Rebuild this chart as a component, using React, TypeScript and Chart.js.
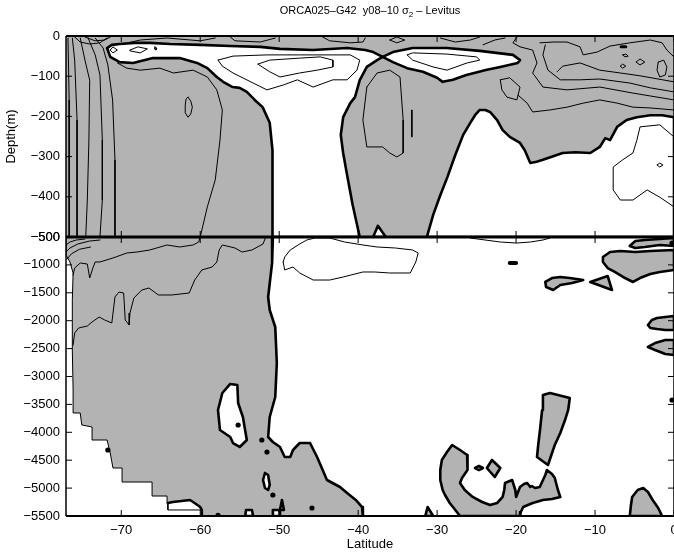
import React, { useEffect, useRef } from 'react';
import { Chart, registerables } from 'chart.js';
Chart.register(...registerables);

type P = [number, number];

// ---------- axes ----------
const LAT_MIN = -77;
const LAT_MAX = 0;
const LAT_STEP = 10;
const TOP_MIN = -500;
const TOP_MAX = 0;
const TOP_STEP = 100;
const BOT_MIN = -5500;
const BOT_MAX = -500;
const BOT_STEP = 500;
const TITLE_MAIN = 'ORCA025\u2013G42  y08\u201310 \u03c3';
const TITLE_SUB = '2';
const TITLE_END = ' \u2013 Levitus';
const X_LABEL = 'Latitude';
const Y_LABEL = 'Depth(m)';

// ---------- upper panel (0 to -500 m): white regions bounded by the thick contour ----------
const topWhiteWest: P[] = [
  [-71.8, -30], [-71.2, -22], [-70.2, -20], [-68.3, -17], [-66.4, -17], [-63.8, -20], [-60.0, -22],
  [-56.2, -25], [-52.4, -27], [-49.9, -32], [-45.7, -35], [-41.4, -30], [-39.1, -35], [-38.1, -40],
  [-36.9, -52], [-37.6, -60], [-38.9, -77], [-39.8, -110], [-40.4, -152], [-41.0, -167], [-41.9, -202],
  [-42.2, -246], [-41.9, -291], [-41.4, -346], [-40.7, -420], [-39.8, -500], [-50.8, -500], [-50.8, -408],
  [-50.9, -284], [-51.2, -216], [-52.1, -177], [-53.1, -159], [-54.1, -139], [-55.0, -129], [-55.9, -127],
  [-57.1, -114], [-57.9, -102], [-59.1, -80], [-60.4, -67], [-62.6, -55], [-66.0, -55], [-68.5, -67],
  [-70.2, -65], [-71.4, -52],
];
const topWhiteEast: P[] = [
  [-36.9, -52], [-35.6, -40], [-33.1, -30], [-28.8, -30], [-24.6, -37], [-20.4, -47], [-19.5, -60],
  [-19.8, -67], [-22.0, -77], [-23.7, -84], [-26.3, -97], [-28.0, -109], [-29.3, -114], [-30.0, -104],
  [-31.8, -89], [-33.8, -80], [-35.6, -65],
];
const topWhiteSouthEast: P[] = [
  [-31.3, -500], [-30.5, -445], [-29.6, -396], [-28.7, -351], [-27.7, -296], [-26.7, -246], [-25.8, -216],
  [-25.2, -197], [-24.6, -184], [-23.9, -184], [-23.3, -189], [-22.4, -209], [-21.7, -234], [-20.8, -251],
  [-19.5, -266], [-18.9, -284], [-18.2, -316], [-17.4, -313], [-16.6, -308], [-15.3, -299], [-14.1, -291],
  [-12.5, -289], [-10.6, -291], [-9.4, -276], [-8.7, -254], [-8.1, -259], [-7.2, -226], [-6.0, -209],
  [-4.7, -202], [-3.0, -197], [-1.5, -197], [0, -202], [0, -500],
];
const topWhiteNotch: P[] = [[-38.1, -500], [-37.5, -472], [-36.5, -500]];

// ---------- upper panel: thin contours ----------
const topThinLines: P[][] = [
  [[-70.5, -67], [-69.3, -80], [-67.6, -85], [-65.1, -80], [-63.4, -92], [-60.9, -85], [-59.1, -102],
   [-57.9, -134], [-57.2, -184], [-57.5, -259], [-58.1, -358], [-59.1, -425], [-60.0, -500]],
  [[-76.75, -5], [-76.6, -159], [-76.6, -500]],
  [[-76.2, -5], [-75.9, -60], [-75.6, -209], [-75.6, -500]],
  [[-75.2, -5], [-74.6, -60], [-74.0, -110], [-74.1, -259], [-74.3, -408], [-74.5, -500]],
  [[-74.2, -5], [-73.3, -47], [-72.7, -97], [-72.4, -259], [-72.4, -408], [-72.7, -500]],
  [[-73.3, -5], [-72.3, -30], [-71.7, -72], [-71.1, -159], [-70.8, -308], [-70.8, -500]],
  [[-75.9, -2.5], [-75.2, -15], [-74.0, -20], [-72.7, -17], [-71.8, -5]],
  [[-74.6, -2.5], [-73.3, -12], [-72.1, -10], [-71.4, -2.5]],
  [[-69.15, -17], [-67.6, -10], [-64.2, -5], [-60.0, -12], [-58.1, -5]],
  [[-56.2, -2.5], [-55.6, -12], [-52.4, -15], [-50.5, -5]],
  [[-44.5, -2.5], [-43.6, -12], [-41.0, -17], [-39.4, -15], [-39.1, -5]],
  [[-29.6, -5], [-27.7, -15], [-25.8, -10], [-24.6, -2.5]],
  [[-24.2, -22], [-22.7, -10], [-21.4, -5]],
  [[-33.2, -184], [-33.2, -251]],
  [[-17.0, -17], [-15.3, -15], [-13.55, -15], [-11.9, -27], [-11.5, -47], [-9.75, -40], [-8.1, -25],
   [-5.6, -17], [-3.0, -10], [-1.5, -17], [-0.9, -35], [0, -52]],
  [[-14.8, -89], [-14.1, -75], [-11.9, -67], [-9.4, -85], [-6.8, -92], [-4.3, -99], [0, -114]],
  [[-16.3, -22], [-16.6, -47], [-15.96, -85], [-14.4, -109], [-11.9, -109], [-9.4, -107], [-5.6, -117],
   [-3.0, -129], [0, -139]],
  [[-19.9, -2.5], [-20.4, -17], [-19.5, -27], [-17.9, -35], [-17.35, -67], [-17.9, -92], [-16.6, -127],
   [-13.55, -134], [-9.4, -127], [-5.2, -142], [0, -159]],
  [[-19.76, -147], [-18.6, -167], [-17.9, -189], [-15.7, -184], [-13.55, -177], [-11.5, -167], [-9.4, -159],
   [-7.2, -167], [-5.2, -177], [-3.0, -179], [0, -184]],
  [[0, -425], [-1.8, -401], [-3.4, -383], [-5.2, -408], [-6.8, -408], [-7.7, -383], [-7.7, -326],
   [-6.5, -308], [-5.2, -291], [-4.7, -259], [-4.3, -226], [-1.8, -221], [0, -251]],
];
const topThinLoops: P[][] = [
  [[-61.55, -152], [-61.2, -162], [-61.0, -177], [-61.2, -194], [-61.55, -202], [-61.9, -191], [-61.9, -172], [-61.8, -157]],
  [[-57.75, -60], [-55.85, -50], [-51.55, -47], [-47.4, -47], [-43.2, -47], [-41.0, -47], [-39.8, -60],
   [-40.15, -85], [-41.4, -109], [-43.2, -109], [-45.7, -127], [-47.7, -109], [-49.5, -122], [-51.55, -134],
   [-53.3, -117], [-55.85, -92], [-57.2, -75]],
  [[-52.7, -70], [-51.2, -60], [-47.4, -55], [-44.8, -52], [-43.2, -60], [-43.2, -77], [-45.2, -85],
   [-47.4, -92], [-49.9, -102], [-51.2, -89]],
  [[-33.8, -47], [-33.1, -42], [-28.75, -45], [-25.0, -52], [-24.6, -60], [-26.2, -67], [-28.75, -85],
   [-30.5, -77], [-33.1, -60]],
  [[-71.4, -35], [-71.05, -27], [-70.5, -35], [-71.05, -42]],
  [[-68.9, -35], [-67.9, -27], [-66.7, -32], [-67.6, -42], [-68.9, -37]],
  [[-65.75, -27], [-65.5, -30], [-65.6, -35], [-65.85, -31]],
  [[-38.9, -127], [-37.6, -92], [-36.0, -85], [-34.7, -102], [-34.3, -209], [-34.3, -291], [-35.1, -301],
   [-36.0, -291], [-36.9, -276], [-38.9, -276], [-39.4, -209]],
  [[-36.0, -10], [-35.1, -2.5], [-34.1, -10], [-35.1, -17]],
  [[-22.0, -109], [-20.8, -104], [-19.5, -127], [-19.9, -159], [-21.15, -152], [-21.8, -134]],
  [[-4.8, -65], [-4.3, -57], [-3.7, -65], [-4.3, -72]],
  [[-2.0, -65], [-1.3, -60], [-0.9, -77], [-1.1, -97], [-1.8, -102], [-2.15, -85]],
  [[-6.5, -47], [-6.1, -45], [-5.8, -50], [-6.2, -52]],
  [[-6.8, -75], [-6.5, -70], [-6.1, -75], [-6.5, -80]],
  [[-2.15, -321], [-1.8, -316], [-1.4, -321], [-1.8, -326]],
];
const topDash: P[] = [[-6.7, -27], [-6.1, -27]];

// ---------- lower panel (-500 to -5500 m): grey regions ----------
const botGreyWest: P[] = [
  [-77, -500], [-50.8, -500], [-50.9, -966], [-51.4, -1575], [-51.2, -1808], [-50.5, -2113], [-50.3, -2758],
  [-50.5, -3367], [-51.2, -3726], [-51.4, -4084], [-50.8, -4174], [-49.9, -4263], [-49.3, -4443], [-48.6, -4443],
  [-48.25, -4317], [-47.4, -4192], [-46.1, -4192], [-45.2, -4443], [-43.95, -4855], [-42.3, -4980],
  [-41.4, -5088], [-40.3, -5213], [-39.5, -5339], [-39.4, -5500], [-59.8, -5500], [-59.8, -5392],
  [-60.0, -5339], [-60.9, -5249], [-61.3, -5213], [-63.45, -5249], [-64.1, -5267], [-64.2, -5142],
  [-66.1, -5142], [-66.1, -4891], [-69.9, -4891], [-69.9, -4640], [-71.05, -4640], [-71.4, -4371],
  [-71.8, -4138], [-73.7, -4138], [-73.7, -3905], [-75.0, -3869], [-75.2, -3654], [-76.0, -3654],
  [-76.1, -3242], [-76.2, -2525], [-76.2, -1629], [-76.1, -1145], [-76.5, -948], [-77, -823],
];
const botWestEdge: P[] = [
  [-50.8, -500], [-50.9, -966], [-51.4, -1575], [-51.2, -1808], [-50.5, -2113], [-50.3, -2758], [-50.5, -3367],
  [-51.2, -3726], [-51.4, -4084], [-50.8, -4174], [-49.9, -4263], [-49.3, -4443], [-48.6, -4443], [-48.25, -4317],
  [-47.4, -4192], [-46.1, -4192], [-45.2, -4443], [-43.95, -4855], [-42.3, -4980], [-41.4, -5088], [-40.3, -5213],
  [-39.5, -5339], [-39.4, -5500],
];
const botPocketEdge: P[] = [
  [-59.8, -5500], [-59.8, -5392], [-60.0, -5339], [-60.9, -5249], [-61.3, -5213], [-63.45, -5249], [-64.1, -5267],
];
const botPocketFloor: P[] = [[-64.1, -5267], [-64.1, -5392], [-59.8, -5392]];
const botWhiteIslands: P[][] = [
  [[-56.2, -3134], [-55.3, -3152], [-55.2, -3475], [-54.6, -3726], [-54.1, -4138], [-55.0, -4263], [-55.85, -4192],
   [-56.2, -4084], [-57.5, -3959], [-57.75, -3600], [-57.2, -3296]],
  [[-51.8, -4729], [-51.4, -4765], [-51.2, -4944], [-51.4, -5034], [-51.8, -4998], [-52.05, -4855]],
  [[-49.9, -5392], [-49.65, -5213], [-49.4, -5392]],
  [[-54.3, -5500], [-54.2, -5392], [-53.45, -5392], [-53.3, -5500]],
  [[-50.9, -5500], [-50.8, -5392], [-50.0, -5392], [-49.9, -5500]],
];
const botGreyPatches: P[][] = [
  [[-5.6, -661], [-4.9, -572], [-3.7, -554], [-1.8, -536], [0, -518], [0, -661], [-1.8, -643], [-3.7, -679], [-4.9, -697]],
  [[-9.0, -858], [-8.1, -769], [-6.8, -751], [-4.9, -769], [-3.0, -751], [0, -733], [0, -1091], [-1.8, -1127],
   [-3.0, -1163], [-4.3, -1235], [-5.2, -1306], [-6.2, -1235], [-7.5, -1127], [-8.4, -1056], [-9.0, -948]],
  [[-10.6, -1306], [-8.4, -1199], [-7.85, -1450]],
  [[-16.3, -1306], [-15.45, -1235], [-14.4, -1217], [-13.2, -1235], [-11.5, -1271], [-12.9, -1324], [-14.4, -1360],
   [-15.3, -1450], [-16.2, -1396]],
  [[-3.3, -2077], [-2.8, -1987], [-2.15, -1952], [-1.1, -1934], [0, -1916], [0, -2167], [-1.1, -2167], [-2.15, -2149], [-3.0, -2131]],
  [[-3.3, -2471], [-2.4, -2400], [-1.1, -2346], [0, -2346], [0, -2615], [-1.1, -2597], [-2.4, -2525]],
  [[-16.6, -3331], [-15.7, -3296], [-14.7, -3331], [-13.2, -3385], [-13.4, -3600], [-13.8, -3780], [-14.4, -4013],
   [-15.1, -4228], [-15.96, -4586], [-17.35, -4443], [-17.2, -4228], [-16.97, -3959], [-16.7, -3600]],
  [[-29.6, -4676], [-29.4, -4496], [-28.75, -4353], [-28.1, -4228], [-27.1, -4317], [-26.2, -4407], [-26.1, -4532],
   [-26.2, -4676], [-26.85, -4819], [-27.1, -4909], [-26.5, -5034], [-25.5, -5159], [-24.3, -5249], [-23.3, -5303],
   [-22.4, -5267], [-21.7, -5159], [-21.5, -5034], [-21.4, -4909], [-20.5, -4855], [-20.1, -5034], [-20.0, -5159],
   [-19.5, -4980], [-19.0, -4927], [-18.6, -4909], [-18.2, -4980], [-18.0, -4962], [-17.6, -4998], [-17.0, -4980],
   [-16.3, -4765], [-16.1, -4676], [-15.45, -4747], [-15.1, -4819], [-14.7, -5034], [-14.4, -5159], [-15.45, -5195],
   [-16.6, -5213], [-17.9, -5267], [-19.1, -5339], [-19.4, -5428], [-19.5, -5500], [-27.1, -5500], [-27.7, -5392],
   [-28.4, -5267], [-29.0, -5124], [-29.3, -5034], [-29.6, -4855]],
  [[-23.7, -4640], [-23.05, -4496], [-22.0, -4640], [-22.7, -4801]],
  [[-25.2, -4640], [-24.7, -4604], [-24.2, -4640], [-24.7, -4676]],
  [[-5.6, -5500], [-5.45, -5303], [-5.3, -5159], [-4.6, -5034], [-3.9, -4998], [-3.3, -5070], [-2.7, -5213], [-2.0, -5357], [-1.5, -5500]],
  [[-31.5, -5500], [-31.2, -5339], [-30.5, -5500]],
];
const botDots: P[] = [
  [-55.2, -3869], [-52.2, -4138], [-51.55, -4353], [-50.8, -5124], [-45.85, -5357], [-71.7, -4317],
  [-57.75, -5490], [-0.25, -3421], [-0.25, -610],
];
const botDash: P[] = [[-20.8, -966], [-20.0, -966]];

// ---------- lower panel: thin contours ----------
const botThinLines: P[][] = [
  [[-60.0, -500], [-60.2, -590], [-60.9, -643], [-62.6, -679], [-64.2, -643], [-66.4, -733], [-68.0, -769],
   [-69.3, -787], [-71.05, -876], [-72.7, -948], [-73.3, -948], [-73.6, -1056], [-74.0, -1235], [-74.3, -984],
   [-75.2, -966], [-75.9, -1056], [-76.1, -1181]],
  [[-51.7, -500], [-52.05, -625], [-53.45, -733], [-54.7, -769], [-55.6, -697], [-57.2, -643], [-57.6, -733],
   [-57.9, -948], [-58.5, -1038], [-59.8, -1091], [-60.7, -1271], [-61.4, -1504], [-63.6, -1539], [-65.3, -1539],
   [-66.5, -1414], [-67.4, -1450], [-68.4, -1593], [-68.9, -1862], [-69.0, -2077], [-69.5, -1987], [-69.7, -1504],
   [-70.3, -1486], [-70.8, -1575], [-71.2, -2041], [-72.1, -1987], [-72.8, -1934], [-73.7, -2023], [-74.3, -2095],
   [-75.4, -2131], [-75.9, -2220], [-76.1, -2435]],
  [[-77, -643], [-76.5, -590], [-75.7, -554], [-74.6, -536]],
  [[-77, -769], [-76.5, -697], [-75.5, -625], [-74.0, -572], [-72.7, -554]],
  [[-76.9, -900], [-76.3, -800], [-75.3, -720], [-73.9, -680]],
  [[-25.8, -518], [-22.0, -590], [-19.9, -608], [-18.2, -590], [-16.6, -554], [-15.7, -518]],
];
const botThinLoops: P[][] = [
  [[-49.5, -948], [-49.3, -858], [-48.6, -733], [-47.4, -625], [-46.5, -554], [-45.5, -518], [-43.6, -518],
   [-41.7, -590], [-39.4, -643], [-37.6, -679], [-35.3, -697], [-33.1, -733], [-32.4, -787], [-32.7, -948],
   [-33.4, -1145], [-36.0, -1145], [-37.9, -1127], [-39.4, -1127], [-41.9, -1217], [-43.6, -1271], [-45.7, -1271],
   [-47.4, -1145], [-48.25, -1038], [-49.3, -1091]],
];

const GREY = '#b3b3b3';
const FONT = '"Liberation Sans", Arial, Helvetica, sans-serif';
const fmt = (v: number) => String(v).replace('-', '\u2212');

function pts(a: P[]) {
  return a.map(([x, y]) => ({ x, y }));
}
function closed(a: P[]) {
  return pts([...a, a[0]]);
}

export default function App() {
  const ref = useRef<HTMLCanvasElement>(null);
  useEffect(() => {
    const canvas = ref.current;
    if (!canvas) return;
    const ds: any[] = [];
    const base = { showLine: true, pointRadius: 0, pointHoverRadius: 0, tension: 0, borderJoinStyle: 'round', borderCapStyle: 'round' };
    const area = (a: P[], axis: string, color: string, bw: number, order: number) =>
      ds.push({ ...base, data: closed(a), yAxisID: axis, fill: 'shape', backgroundColor: color, borderColor: bw ? '#000' : 'rgba(0,0,0,0)', borderWidth: bw, order });
    const line = (a: P[], axis: string, bw: number, order: number, loop = false) =>
      ds.push({ ...base, data: loop ? closed(a) : pts(a), yAxisID: axis, fill: false, borderColor: '#000', borderWidth: bw, order });

    // upper panel
    area(topWhiteWest, 'yTop', '#ffffff', 2.6, 50);
    area(topWhiteEast, 'yTop', '#ffffff', 2.6, 50);
    area(topWhiteSouthEast, 'yTop', '#ffffff', 2.6, 50);
    area(topWhiteNotch, 'yTop', '#ffffff', 2.6, 50);
    topThinLines.forEach((l) => line(l, 'yTop', 1, 30));
    topThinLoops.forEach((l) => line(l, 'yTop', 1, 30, true));
    line(topDash, 'yTop', 3, 20);

    // lower panel
    area(botGreyWest, 'yBot', GREY, 1, 60);
    botGreyPatches.forEach((p) => area(p, 'yBot', GREY, 2.6, 50));
    botWhiteIslands.forEach((p) => area(p, 'yBot', '#ffffff', 2.6, 40));
    botThinLines.forEach((l) => line(l, 'yBot', 1, 30));
    botThinLoops.forEach((l) => line(l, 'yBot', 1, 30, true));
    line(botPocketFloor, 'yBot', 1, 30);
    line(botWestEdge, 'yBot', 2.6, 20);
    line(botPocketEdge, 'yBot', 2.6, 20);
    line(botDash, 'yBot', 4, 20);
    ds.push({ data: pts(botDots), yAxisID: 'yBot', showLine: false, pointRadius: 2.6, pointHoverRadius: 2.6,
      pointBackgroundColor: '#000', pointBorderWidth: 0, order: 10 });

    const panelBg = {
      id: 'panelBg',
      beforeDatasetsDraw(chart: any) {
        const { ctx, chartArea } = chart;
        const yT = chart.scales.yTop;
        ctx.save();
        ctx.fillStyle = GREY;
        ctx.fillRect(chartArea.left, yT.top, chartArea.right - chartArea.left, yT.bottom - yT.top);
        ctx.restore();
      },
    };
    const frames = {
      id: 'frames',
      afterDatasetsDraw(chart: any) {
        const { ctx, chartArea } = chart;
        const { left, right } = chartArea;
        const yT = chart.scales.yTop;
        const yB = chart.scales.yBot;
        const xs = chart.scales.x;
        ctx.save();
        ctx.strokeStyle = '#000';
        const seg = (x1: number, y1: number, x2: number, y2: number, w: number) => {
          ctx.lineWidth = w;
          ctx.beginPath();
          ctx.moveTo(x1, y1);
          ctx.lineTo(x2, y2);
          ctx.stroke();
        };
        seg(left, yT.top, right, yT.top, 2);
        seg(left, yB.bottom, right, yB.bottom, 2);
        seg(left, yT.bottom, right, yT.bottom, 3);
        seg(left, yT.top, left, yB.bottom, 1.5);
        seg(right, yT.top, right, yB.bottom, 1.5);
        const L = 6;
        xs.ticks.forEach((t: any) => {
          const px = xs.getPixelForValue(t.value);
          seg(px, yT.top, px, yT.top + L, 1);
          seg(px, yT.bottom - L, px, yT.bottom + L, 1);
          seg(px, yB.bottom, px, yB.bottom - L, 1);
        });
        [yT, yB].forEach((s: any) => {
          s.ticks.forEach((t: any) => {
            const py = s.getPixelForValue(t.value);
            seg(left, py, left + L, py, 1);
            seg(right - L, py, right, py, 1);
          });
        });
        ctx.restore();
      },
    };
    const title = {
      id: 'subTitle',
      afterDraw(chart: any) {
        const { ctx, chartArea } = chart;
        ctx.save();
        ctx.fillStyle = '#000';
        ctx.textBaseline = 'alphabetic';
        ctx.textAlign = 'left';
        const big = `11px ${FONT}`;
        const small = `8px ${FONT}`;
        ctx.font = big;
        const w1 = ctx.measureText(TITLE_MAIN).width;
        const w3 = ctx.measureText(TITLE_END).width;
        ctx.font = small;
        const w2 = ctx.measureText(TITLE_SUB).width;
        const cx = (chartArea.left + chartArea.right) / 2;
        let x = cx - (w1 + w2 + w3) / 2;
        const y = 14;
        ctx.font = big;
        ctx.fillText(TITLE_MAIN, x, y);
        x += w1;
        ctx.font = small;
        ctx.fillText(TITLE_SUB, x, y + 3);
        x += w2;
        ctx.font = big;
        ctx.fillText(TITLE_END, x, y);
        ctx.restore();
      },
    };

    const tickFont = { family: FONT, size: 13 };
    const chart = new Chart(canvas, {
      type: 'scatter',
      data: { datasets: ds },
      plugins: [panelBg, frames, title],
      options: {
        animation: false,
        responsive: false,
        events: [],
        layout: { padding: { left: 0, right: 26, top: 36, bottom: 0 } },
        plugins: { legend: { display: false }, tooltip: { enabled: false }, title: { display: false } },
        scales: {
          x: {
            type: 'linear', position: 'bottom', min: LAT_MIN, max: LAT_MAX,
            ticks: { stepSize: LAT_STEP, includeBounds: false, autoSkip: false, font: tickFont, color: '#000', padding: 7, maxRotation: 0, callback: (v: any) => fmt(v) },
            grid: { display: false, drawTicks: false },
            border: { display: false },
            title: { display: true, text: X_LABEL, font: tickFont, color: '#000', padding: { top: 2, bottom: 4 } },
            afterFit: (s: any) => { s.height = 40; },
          },
          yTop: {
            type: 'linear', position: 'left', stack: 'depth', stackWeight: 201, weight: 2,
            min: TOP_MIN, max: TOP_MAX,
            ticks: { stepSize: TOP_STEP, autoSkip: false, font: tickFont, color: '#000', padding: 6, callback: (v: any) => fmt(v) },
            grid: { display: false, drawTicks: false },
            border: { display: false },
            title: { display: true, text: Y_LABEL, font: tickFont, color: '#000', padding: { top: 4, bottom: 0 } },
            afterFit: (s: any) => { s.width = 66; },
          },
          yBot: {
            type: 'linear', position: 'left', stack: 'depth', stackWeight: 279, weight: 1,
            min: BOT_MIN, max: BOT_MAX,
            ticks: { stepSize: BOT_STEP, autoSkip: false, font: tickFont, color: '#000', padding: 6, callback: (v: any) => fmt(v) },
            grid: { display: false, drawTicks: false },
            border: { display: false },
            afterFit: (s: any) => { s.width = 66; },
          },
        },
      } as any,
    });
    return () => chart.destroy();
  }, []);

  return (
    <div style={{ position: 'fixed', left: 0, top: 0, width: 674, height: 556, overflow: 'hidden', background: '#fff' }}>
      <canvas ref={ref} width={700} height={556} style={{ display: 'block', width: 700, height: 556 }} />
    </div>
  );
}
